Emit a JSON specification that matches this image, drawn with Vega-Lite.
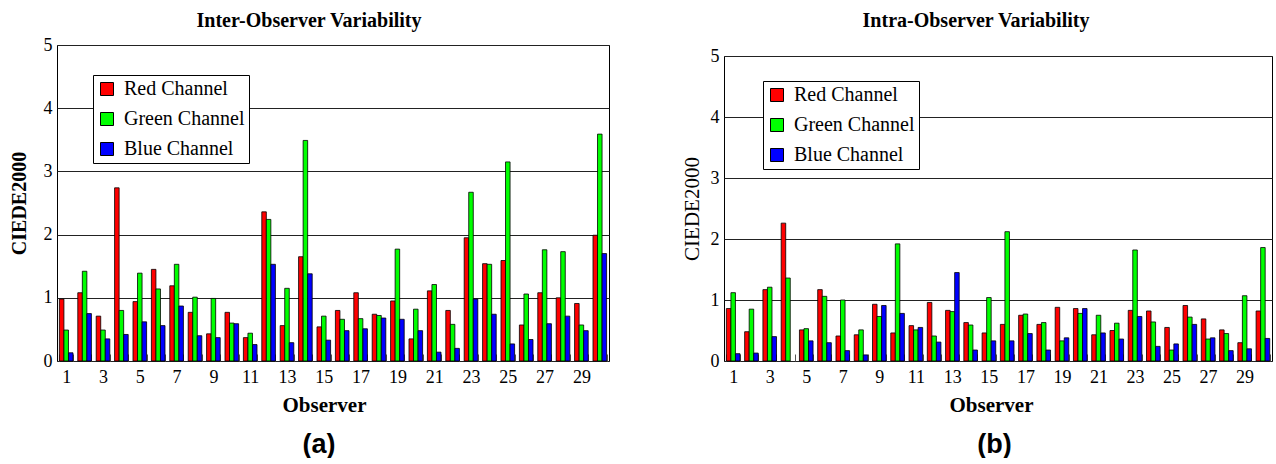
{
  "$schema": "https://vega.github.io/schema/vega-lite/v6.json",
  "background": "white",
  "padding": {"left": 8, "top": 10, "right": 0, "bottom": 0},
  "datasets": {
    "inter": [
      {"obs": 1, "Red Channel": 0.98, "Green Channel": 0.49, "Blue Channel": 0.13},
      {"obs": 2, "Red Channel": 1.08, "Green Channel": 1.42, "Blue Channel": 0.75},
      {"obs": 3, "Red Channel": 0.71, "Green Channel": 0.49, "Blue Channel": 0.35},
      {"obs": 4, "Red Channel": 2.74, "Green Channel": 0.80, "Blue Channel": 0.42},
      {"obs": 5, "Red Channel": 0.94, "Green Channel": 1.39, "Blue Channel": 0.62},
      {"obs": 6, "Red Channel": 1.45, "Green Channel": 1.14, "Blue Channel": 0.56},
      {"obs": 7, "Red Channel": 1.19, "Green Channel": 1.53, "Blue Channel": 0.87},
      {"obs": 8, "Red Channel": 0.77, "Green Channel": 1.01, "Blue Channel": 0.40},
      {"obs": 9, "Red Channel": 0.43, "Green Channel": 0.99, "Blue Channel": 0.37},
      {"obs": 10, "Red Channel": 0.77, "Green Channel": 0.60, "Blue Channel": 0.59},
      {"obs": 11, "Red Channel": 0.37, "Green Channel": 0.44, "Blue Channel": 0.26},
      {"obs": 12, "Red Channel": 2.36, "Green Channel": 2.24, "Blue Channel": 1.53},
      {"obs": 13, "Red Channel": 0.56, "Green Channel": 1.15, "Blue Channel": 0.29},
      {"obs": 14, "Red Channel": 1.65, "Green Channel": 3.49, "Blue Channel": 1.38},
      {"obs": 15, "Red Channel": 0.54, "Green Channel": 0.71, "Blue Channel": 0.33},
      {"obs": 16, "Red Channel": 0.80, "Green Channel": 0.66, "Blue Channel": 0.48},
      {"obs": 17, "Red Channel": 1.08, "Green Channel": 0.67, "Blue Channel": 0.51},
      {"obs": 18, "Red Channel": 0.74, "Green Channel": 0.72, "Blue Channel": 0.68},
      {"obs": 19, "Red Channel": 0.95, "Green Channel": 1.77, "Blue Channel": 0.66},
      {"obs": 20, "Red Channel": 0.35, "Green Channel": 0.82, "Blue Channel": 0.48},
      {"obs": 21, "Red Channel": 1.11, "Green Channel": 1.21, "Blue Channel": 0.14},
      {"obs": 22, "Red Channel": 0.80, "Green Channel": 0.58, "Blue Channel": 0.20},
      {"obs": 23, "Red Channel": 1.95, "Green Channel": 2.67, "Blue Channel": 0.98},
      {"obs": 24, "Red Channel": 1.54, "Green Channel": 1.53, "Blue Channel": 0.74},
      {"obs": 25, "Red Channel": 1.59, "Green Channel": 3.15, "Blue Channel": 0.27},
      {"obs": 26, "Red Channel": 0.57, "Green Channel": 1.06, "Blue Channel": 0.34},
      {"obs": 27, "Red Channel": 1.08, "Green Channel": 1.76, "Blue Channel": 0.59},
      {"obs": 28, "Red Channel": 1.00, "Green Channel": 1.73, "Blue Channel": 0.71},
      {"obs": 29, "Red Channel": 0.91, "Green Channel": 0.57, "Blue Channel": 0.48},
      {"obs": 30, "Red Channel": 1.99, "Green Channel": 3.59, "Blue Channel": 1.70}
    ],
    "intra": [
      {"obs": 1, "Red Channel": 0.86, "Green Channel": 1.12, "Blue Channel": 0.12},
      {"obs": 2, "Red Channel": 0.48, "Green Channel": 0.85, "Blue Channel": 0.13},
      {"obs": 3, "Red Channel": 1.17, "Green Channel": 1.21, "Blue Channel": 0.40},
      {"obs": 4, "Red Channel": 2.26, "Green Channel": 1.36, "Blue Channel": null},
      {"obs": 5, "Red Channel": 0.51, "Green Channel": 0.53, "Blue Channel": 0.33},
      {"obs": 6, "Red Channel": 1.17, "Green Channel": 1.06, "Blue Channel": 0.30},
      {"obs": 7, "Red Channel": 0.41, "Green Channel": 1.00, "Blue Channel": 0.17},
      {"obs": 8, "Red Channel": 0.43, "Green Channel": 0.51, "Blue Channel": 0.10},
      {"obs": 9, "Red Channel": 0.93, "Green Channel": 0.73, "Blue Channel": 0.91},
      {"obs": 10, "Red Channel": 0.46, "Green Channel": 1.92, "Blue Channel": 0.78},
      {"obs": 11, "Red Channel": 0.58, "Green Channel": 0.51, "Blue Channel": 0.55},
      {"obs": 12, "Red Channel": 0.96, "Green Channel": 0.41, "Blue Channel": 0.31},
      {"obs": 13, "Red Channel": 0.83, "Green Channel": 0.81, "Blue Channel": 1.45},
      {"obs": 14, "Red Channel": 0.63, "Green Channel": 0.59, "Blue Channel": 0.18},
      {"obs": 15, "Red Channel": 0.46, "Green Channel": 1.04, "Blue Channel": 0.33},
      {"obs": 16, "Red Channel": 0.60, "Green Channel": 2.12, "Blue Channel": 0.33},
      {"obs": 17, "Red Channel": 0.75, "Green Channel": 0.77, "Blue Channel": 0.45},
      {"obs": 18, "Red Channel": 0.60, "Green Channel": 0.63, "Blue Channel": 0.18},
      {"obs": 19, "Red Channel": 0.88, "Green Channel": 0.33, "Blue Channel": 0.38},
      {"obs": 20, "Red Channel": 0.86, "Green Channel": 0.78, "Blue Channel": 0.86},
      {"obs": 21, "Red Channel": 0.43, "Green Channel": 0.75, "Blue Channel": 0.46},
      {"obs": 22, "Red Channel": 0.50, "Green Channel": 0.62, "Blue Channel": 0.36},
      {"obs": 23, "Red Channel": 0.83, "Green Channel": 1.82, "Blue Channel": 0.73},
      {"obs": 24, "Red Channel": 0.82, "Green Channel": 0.64, "Blue Channel": 0.24},
      {"obs": 25, "Red Channel": 0.55, "Green Channel": 0.18, "Blue Channel": 0.28},
      {"obs": 26, "Red Channel": 0.91, "Green Channel": 0.72, "Blue Channel": 0.60},
      {"obs": 27, "Red Channel": 0.69, "Green Channel": 0.36, "Blue Channel": 0.38},
      {"obs": 28, "Red Channel": 0.51, "Green Channel": 0.45, "Blue Channel": 0.17},
      {"obs": 29, "Red Channel": 0.30, "Green Channel": 1.07, "Blue Channel": 0.20},
      {"obs": 30, "Red Channel": 0.82, "Green Channel": 1.86, "Blue Channel": 0.37}
    ]
  },
  "spacing": 70,
  "resolve": {"scale": {"color": "independent"}, "legend": {"color": "independent"}},
  "hconcat": [
    {
      "title": {"text": "(a)", "orient": "bottom", "font": "Liberation Sans", "fontSize": 27, "fontWeight": "bold", "color": "black", "offset": 16, "dx": 10},
      "resolve": {"scale": {"color": "independent"}, "legend": {"color": "independent"}},
      "vconcat": [
        {
          "title": {"text": "Inter-Observer Variability", "offset": 5, "dx": -24},
          "width": 552,
          "height": 316,
          "data": {"name": "inter"},
          "transform": [{"fold": ["Red Channel", "Green Channel", "Blue Channel"], "as": ["channel", "value"]}],
          "mark": {"type": "bar", "stroke": "black", "strokeWidth": 0.8, "opacity": 1},
          "encoding": {
            "x": {
              "field": "obs", "type": "ordinal",
              "scale": {"paddingInner": 0.26, "paddingOuter": 0.13},
              "axis": {
                "title": "Observer", "titleX": 267, "labelExpr": "datum.value % 2 == 1 ? datum.label : ''",
                "labelFont": "Liberation Serif", "labelFontSize": 18, "labelColor": "black", "labelAngle": 0,
                "titleFont": "Liberation Serif", "titleFontSize": 21, "titleFontWeight": "bold", "titleColor": "black", "titlePadding": 8,
                "domain": false, "ticks": true, "tickBand": "extent", "tickColor": "#555", "tickSize": -7, "tickWidth": 1,
                "labelPadding": 14, "grid": false
              }
            },
            "xOffset": {"field": "channel", "type": "nominal", "sort": ["Red Channel", "Green Channel", "Blue Channel"]},
            "y": {
              "field": "value", "type": "quantitative",
              "scale": {"domain": [0, 5]},
              "axis": {
                "values": [0, 1, 2, 3, 4, 5], "format": "d",
                "labelFont": "Liberation Serif", "labelFontSize": 18, "labelColor": "black", "labelPadding": 5,
                "title": "CIEDE2000", "titleFont": "Liberation Serif", "titleColor": "black", "titleFontWeight": "bold", "titleFontSize": 20, "titlePadding": 14,
                "domain": false, "ticks": false, "grid": true, "gridColor": "#222", "gridWidth": 1, "gridOpacity": 1
              }
            },
            "color": {
              "field": "channel", "type": "nominal",
              "scale": {"domain": ["Red Channel", "Green Channel", "Blue Channel"], "range": ["#ff0000", "#00ff00", "#0000ff"]},
              "legend": {
                "orient": "none", "legendX": 36, "legendY": 30,
                "title": null, "direction": "vertical",
                "fillColor": "white", "strokeColor": "black", "padding": 4,
                "symbolType": "square", "symbolSize": 169, "symbolStrokeColor": "black", "symbolStrokeWidth": 1, "symbolOpacity": 1,
                "labelFont": "Liberation Serif", "labelFontSize": 20, "labelColor": "black", "labelOffset": 7,
                "rowPadding": 10, "labelLimit": 300
              }
            }
          }
        }
      ]
    },
    {
      "title": {"text": "(b)", "orient": "bottom", "font": "Liberation Sans", "fontSize": 27, "fontWeight": "bold", "color": "black", "offset": 16, "dx": 18},
      "resolve": {"scale": {"color": "independent"}, "legend": {"color": "independent"}},
      "spacing": 0,
      "vconcat": [
        {
          "title": {"text": "Intra-Observer Variability", "offset": 14, "dx": -22},
          "width": 548,
          "height": 1,
          "view": {"stroke": null},
          "data": {"values": [{}]},
          "mark": {"type": "text", "fontSize": 1},
          "encoding": {"text": {"value": ""}}
        },
        {
          "width": 548,
          "height": 305,
          "data": {"name": "intra"},
          "transform": [{"fold": ["Red Channel", "Green Channel", "Blue Channel"], "as": ["channel", "value"]}],
          "mark": {"type": "bar", "stroke": "black", "strokeWidth": 0.8, "opacity": 1},
          "encoding": {
            "x": {
              "field": "obs", "type": "ordinal",
              "scale": {"paddingInner": 0.26, "paddingOuter": 0.13},
              "axis": {
                "title": "Observer", "titleX": 267, "labelExpr": "datum.value % 2 == 1 ? datum.label : ''",
                "labelFont": "Liberation Serif", "labelFontSize": 18, "labelColor": "black", "labelAngle": 0,
                "titleFont": "Liberation Serif", "titleFontSize": 21, "titleFontWeight": "bold", "titleColor": "black", "titlePadding": 8,
                "domain": false, "ticks": true, "tickBand": "extent", "tickColor": "#555", "tickSize": -7, "tickWidth": 1,
                "labelPadding": 14, "grid": false
              }
            },
            "xOffset": {"field": "channel", "type": "nominal", "sort": ["Red Channel", "Green Channel", "Blue Channel"]},
            "y": {
              "field": "value", "type": "quantitative",
              "scale": {"domain": [0, 5]},
              "axis": {
                "values": [0, 1, 2, 3, 4, 5], "format": "d",
                "labelFont": "Liberation Serif", "labelFontSize": 18, "labelColor": "black", "labelPadding": 5,
                "title": "CIEDE2000", "titleFont": "Liberation Serif", "titleColor": "black", "titleFontWeight": "normal", "titleFontSize": 21, "titlePadding": 8,
                "domain": false, "ticks": false, "grid": true, "gridColor": "#222", "gridWidth": 1, "gridOpacity": 1
              }
            },
            "color": {
              "field": "channel", "type": "nominal",
              "scale": {"domain": ["Red Channel", "Green Channel", "Blue Channel"], "range": ["#ff0000", "#00ff00", "#0000ff"]},
              "legend": {
                "orient": "none", "legendX": 39, "legendY": 25,
                "title": null, "direction": "vertical",
                "fillColor": "white", "strokeColor": "black", "padding": 4,
                "symbolType": "square", "symbolSize": 169, "symbolStrokeColor": "black", "symbolStrokeWidth": 1, "symbolOpacity": 1,
                "labelFont": "Liberation Serif", "labelFontSize": 20, "labelColor": "black", "labelOffset": 7,
                "rowPadding": 10, "labelLimit": 300
              }
            }
          }
        }
      ]
    }
  ],
  "config": {
    "view": {"stroke": "black", "strokeWidth": 1},
    "title": {"font": "Liberation Serif", "fontSize": 20, "fontWeight": "bold", "color": "black", "anchor": "middle"}
  }
}
